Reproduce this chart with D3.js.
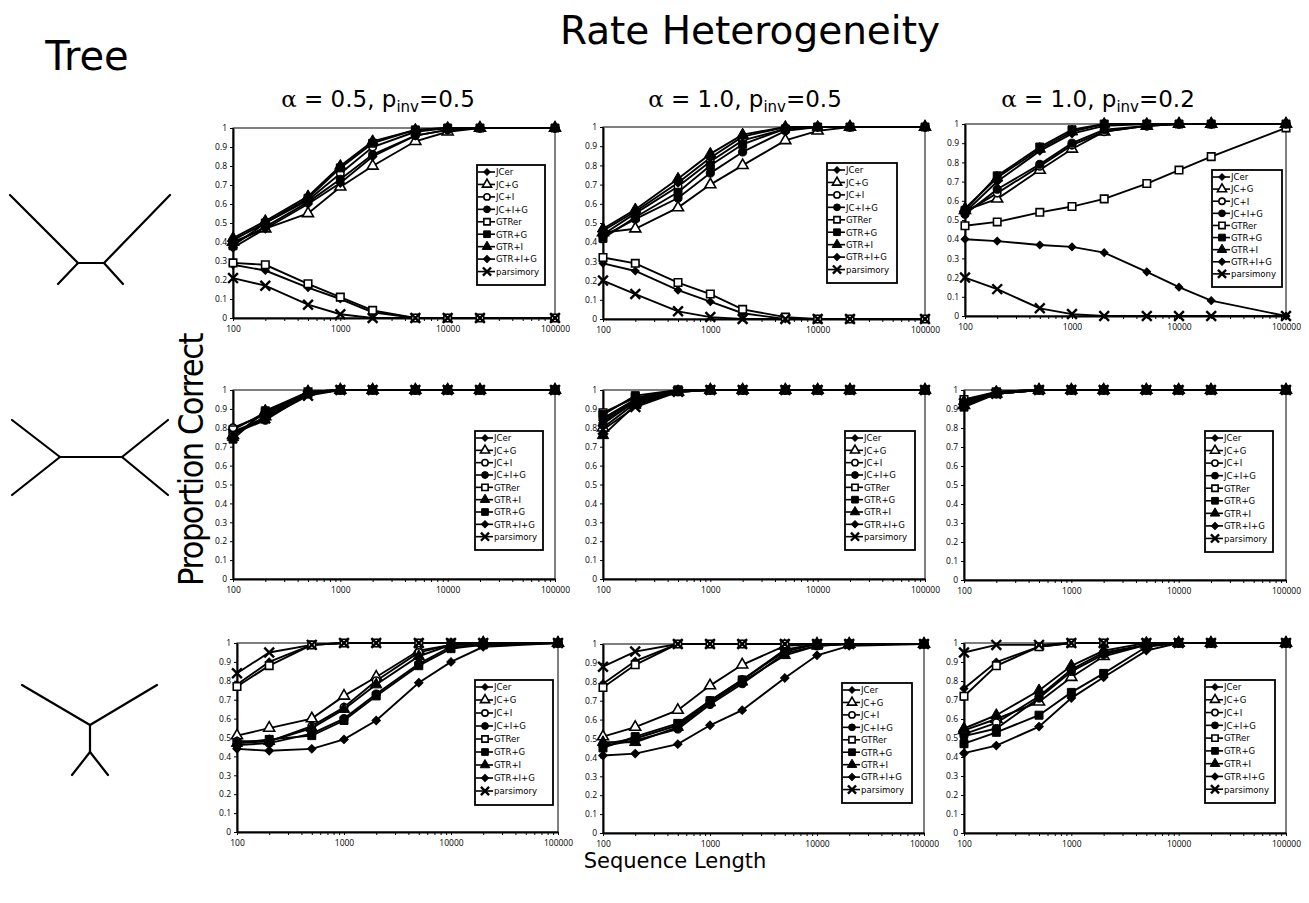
<!DOCTYPE html>
<html>
<head>
<meta charset="utf-8">
<script src="https://cdn.jsdelivr.net/npm/d3@7"></script>
<style>
body{margin:0;background:#fff}
text{font-family:"Open Sans",sans-serif;fill:#000}
.tick text{font-size:8.5px}
.big{font-family:"DejaVu Sans",sans-serif}
</style>
</head>
<body>
<div id="chart"></div>
<script>
var seqLengths = [100, 200, 500, 1000, 2000, 5000, 10000, 20000, 100000]
var models = ["JCer", "JC+G", "JC+I", "JC+I+G", "GTRer", "GTR+G", "GTR+I", "GTR+I+G", "parsimony"]
var yTicks = [0, 0.1, 0.2, 0.3, 0.4, 0.5, 0.6, 0.7, 0.8, 0.9, 1]
var xLabelTicks = [100, 1000, 10000, 100000]
var alphas = ["0.5", "1.0", "1.0"]
var pinvs = ["0.5", "0.5", "0.2"]

// legend texts as printed in each panel (note the "parsimory" spelling)
var legendStd = ["JCer", "JC+G", "JC+I", "JC+I+G", "GTRer", "GTR+G", "GTR+I", "GTR+I+G", "parsimory"]
var legendSwap = ["JCer", "JC+G", "JC+I", "JC+I+G", "GTRer", "GTR+I", "GTR+G", "GTR+I+G", "parsimory"]
var legendOk = ["JCer", "JC+G", "JC+I", "JC+I+G", "GTRer", "GTR+G", "GTR+I", "GTR+I+G", "parsimony"]

// proportion correct, one row per model (same order as models)
// tree 1 (long branches apart)
var tree1a = [
  [0.28, 0.25, 0.16, 0.10, 0.03, 0, 0, 0, 0],
  [0.40, 0.47, 0.55, 0.69, 0.80, 0.93, 0.98, 1, 1],
  [0.41, 0.50, 0.62, 0.76, 0.90, 0.98, 1, 1, 1],
  [0.39, 0.48, 0.61, 0.73, 0.86, 0.96, 0.99, 1, 1],
  [0.29, 0.28, 0.18, 0.11, 0.04, 0, 0, 0, 0],
  [0.38, 0.50, 0.63, 0.79, 0.92, 0.99, 1, 1, 1],
  [0.42, 0.51, 0.64, 0.80, 0.93, 0.99, 1, 1, 1],
  [0.37, 0.47, 0.60, 0.71, 0.85, 0.96, 0.99, 1, 1],
  [0.21, 0.17, 0.07, 0.02, 0, 0, 0, 0, 0]
]
var tree1b = [
  [0.29, 0.25, 0.15, 0.09, 0.03, 0, 0, 0, 0],
  [0.45, 0.47, 0.58, 0.70, 0.80, 0.93, 0.98, 1, 1],
  [0.44, 0.55, 0.69, 0.82, 0.93, 0.99, 1, 1, 1],
  [0.43, 0.52, 0.63, 0.76, 0.87, 0.98, 1, 1, 1],
  [0.32, 0.29, 0.19, 0.13, 0.05, 0.01, 0, 0, 0],
  [0.42, 0.53, 0.66, 0.80, 0.91, 0.99, 1, 1, 1],
  [0.47, 0.57, 0.73, 0.86, 0.96, 1, 1, 1, 1],
  [0.46, 0.56, 0.71, 0.84, 0.95, 1, 1, 1, 1],
  [0.20, 0.13, 0.04, 0.01, 0, 0, 0, 0, 0]
]
var tree1c = [
  [0.40, 0.39, 0.37, 0.36, 0.33, 0.23, 0.15, 0.08, 0],
  [0.55, 0.61, 0.76, 0.87, 0.96, 0.99, 1, 1, 1],
  [0.54, 0.64, 0.78, 0.89, 0.96, 0.99, 1, 1, 1],
  [0.53, 0.66, 0.79, 0.90, 0.97, 0.99, 1, 1, 1],
  [0.47, 0.49, 0.54, 0.57, 0.61, 0.69, 0.76, 0.83, 0.98],
  [0.55, 0.73, 0.88, 0.97, 1, 1, 1, 1, 1],
  [0.56, 0.72, 0.87, 0.96, 1, 1, 1, 1, 1],
  [0.54, 0.70, 0.86, 0.95, 0.99, 1, 1, 1, 1],
  [0.20, 0.14, 0.04, 0.01, 0, 0, 0, 0, 0]
]
// tree 2 (short outer branches)
var tree2a = [
  [0.78, 0.85, 0.98, 1, 1, 1, 1, 1, 1],
  [0.76, 0.86, 0.99, 1, 1, 1, 1, 1, 1],
  [0.80, 0.87, 0.99, 1, 1, 1, 1, 1, 1],
  [0.77, 0.84, 0.98, 1, 1, 1, 1, 1, 1],
  [0.79, 0.88, 0.99, 1, 1, 1, 1, 1, 1],
  [0.74, 0.89, 0.98, 1, 1, 1, 1, 1, 1],
  [0.75, 0.89, 0.99, 1, 1, 1, 1, 1, 1],
  [0.76, 0.86, 0.98, 1, 1, 1, 1, 1, 1],
  [0.77, 0.85, 0.97, 1, 1, 1, 1, 1, 1]
]
var tree2b = [
  [0.83, 0.94, 1, 1, 1, 1, 1, 1, 1],
  [0.80, 0.93, 0.99, 1, 1, 1, 1, 1, 1],
  [0.85, 0.95, 1, 1, 1, 1, 1, 1, 1],
  [0.82, 0.94, 0.99, 1, 1, 1, 1, 1, 1],
  [0.88, 0.96, 1, 1, 1, 1, 1, 1, 1],
  [0.87, 0.97, 1, 1, 1, 1, 1, 1, 1],
  [0.76, 0.92, 0.99, 1, 1, 1, 1, 1, 1],
  [0.84, 0.95, 1, 1, 1, 1, 1, 1, 1],
  [0.79, 0.91, 0.99, 1, 1, 1, 1, 1, 1]
]
var tree2c = [
  [0.93, 0.99, 1, 1, 1, 1, 1, 1, 1],
  [0.92, 0.98, 1, 1, 1, 1, 1, 1, 1],
  [0.94, 0.99, 1, 1, 1, 1, 1, 1, 1],
  [0.93, 0.98, 1, 1, 1, 1, 1, 1, 1],
  [0.95, 0.99, 1, 1, 1, 1, 1, 1, 1],
  [0.91, 0.98, 1, 1, 1, 1, 1, 1, 1],
  [0.94, 0.99, 1, 1, 1, 1, 1, 1, 1],
  [0.92, 0.98, 1, 1, 1, 1, 1, 1, 1],
  [0.93, 0.98, 1, 1, 1, 1, 1, 1, 1]
]
// tree 3 (long branches together)
var tree3a = [
  [0.78, 0.90, 0.99, 1, 1, 1, 1, 1, 1],
  [0.51, 0.55, 0.60, 0.72, 0.82, 0.96, 0.99, 1, 1],
  [0.48, 0.48, 0.56, 0.66, 0.80, 0.95, 0.99, 1, 1],
  [0.46, 0.47, 0.52, 0.60, 0.73, 0.89, 0.98, 0.99, 1],
  [0.77, 0.88, 0.99, 1, 1, 1, 1, 1, 1],
  [0.47, 0.49, 0.51, 0.59, 0.72, 0.88, 0.97, 0.99, 1],
  [0.47, 0.48, 0.55, 0.65, 0.78, 0.93, 0.99, 1, 1],
  [0.44, 0.43, 0.44, 0.49, 0.59, 0.79, 0.90, 0.98, 1],
  [0.84, 0.95, 0.99, 1, 1, 1, 1, 1, 1]
]
var tree3b = [
  [0.79, 0.91, 1, 1, 1, 1, 1, 1, 1],
  [0.51, 0.56, 0.65, 0.78, 0.89, 0.99, 1, 1, 1],
  [0.47, 0.50, 0.57, 0.70, 0.81, 0.97, 1, 1, 1],
  [0.46, 0.49, 0.55, 0.68, 0.79, 0.95, 0.99, 1, 1],
  [0.77, 0.89, 1, 1, 1, 1, 1, 1, 1],
  [0.45, 0.51, 0.58, 0.70, 0.81, 0.96, 1, 1, 1],
  [0.48, 0.48, 0.56, 0.69, 0.80, 0.94, 0.99, 1, 1],
  [0.41, 0.42, 0.47, 0.57, 0.65, 0.82, 0.94, 0.99, 1],
  [0.88, 0.96, 1, 1, 1, 1, 1, 1, 1]
]
var tree3c = [
  [0.76, 0.90, 0.98, 1, 1, 1, 1, 1, 1],
  [0.54, 0.60, 0.69, 0.82, 0.93, 0.99, 1, 1, 1],
  [0.52, 0.58, 0.72, 0.86, 0.95, 0.99, 1, 1, 1],
  [0.51, 0.55, 0.71, 0.85, 0.94, 0.99, 1, 1, 1],
  [0.72, 0.88, 0.98, 1, 1, 1, 1, 1, 1],
  [0.47, 0.53, 0.62, 0.74, 0.84, 0.98, 1, 1, 1],
  [0.55, 0.62, 0.75, 0.88, 0.96, 1, 1, 1, 1],
  [0.42, 0.46, 0.56, 0.71, 0.82, 0.96, 1, 1, 1],
  [0.95, 0.99, 0.99, 1, 1, 1, 1, 1, 1]
]

var svg = d3.select("#chart").append("svg").attr("width", 1309).attr("height", 903)

// marker look per model: [symbol, filled, area, rotate]
var markerType = {
  "JCer": [d3.symbolSquare, true, 30, 45],
  "JC+G": [d3.symbolTriangle, false, 52, 0],
  "JC+I": [d3.symbolCircle, false, 44, 0],
  "JC+I+G": [d3.symbolCircle, true, 52, 0],
  "GTRer": [d3.symbolSquare, false, 56, 0],
  "GTR+G": [d3.symbolSquare, true, 64, 0],
  "GTR+I": [d3.symbolTriangle, true, 56, 0],
  "GTR+I+G": [d3.symbolSquare, true, 36, 45],
  "parsimony": [d3.symbolTimes, false, 64, 0]
}
function drawMarker(sel, model, scale) {
  var m = markerType[model]
  var s = scale || 1
  var p = sel.append("path").attr("d", d3.symbol().type(m[0]).size(m[2] * s)())
    .attr("transform", "rotate(" + m[3] + ")")
  if (model == "parsimony") {
    p.attr("fill", "none").attr("stroke", "#000").attr("stroke-width", 2.4)
  } else if (m[1]) {
    p.attr("fill", "#000").attr("stroke", "#000").attr("stroke-width", 1)
  } else {
    p.attr("fill", "#fff").attr("stroke", "#000").attr("stroke-width", 1.6)
  }
  return p
}

var panels = [
  {data: tree1a, legend: legendStd, x0: 233, x1: 555, y0: 128, y1: 318, lg: [477, 165, 68, 120]},
  {data: tree1b, legend: legendStd, x0: 603, x1: 925, y0: 127, y1: 319, lg: [827, 163, 70, 120]},
  {data: tree1c, legend: legendOk, x0: 965, x1: 1286, y0: 124, y1: 316, lg: [1212, 170, 70, 117]},
  {data: tree2a, legend: legendSwap, x0: 233, x1: 555, y0: 390, y1: 579, lg: [475, 431, 68, 119]},
  {data: tree2b, legend: legendStd, x0: 603, x1: 925, y0: 390, y1: 579, lg: [845, 431, 70, 119]},
  {data: tree2c, legend: legendStd, x0: 964, x1: 1286, y0: 390, y1: 580, lg: [1205, 431, 68, 121]},
  {data: tree3a, legend: legendStd, x0: 237, x1: 558, y0: 643, y1: 832, lg: [475, 680, 78, 125]},
  {data: tree3b, legend: legendStd, x0: 603, x1: 924, y0: 644, y1: 833, lg: [842, 683, 70, 120]},
  {data: tree3c, legend: legendOk, x0: 964, x1: 1286, y0: 643, y1: 833, lg: [1205, 680, 70, 123]}
]

panels.forEach(function(p) {
  var x = d3.scaleLog().domain([100, 100000]).range([p.x0, p.x1])
  var y = d3.scaleLinear().domain([0, 1]).range([p.y1, p.y0])
  var g = svg.append("g")

  g.append("rect")
    .attr("x", p.x0).attr("y", p.y0)
    .attr("width", p.x1 - p.x0).attr("height", p.y1 - p.y0)
    .attr("fill", "none").attr("stroke", "#000").attr("stroke-width", 1)

  var yAxis = d3.axisLeft(y).tickValues(yTicks).tickSize(3).tickSizeOuter(0)
    .tickFormat(d3.format("~g"))
  var gy = g.append("g").attr("transform", "translate(" + p.x0 + ",0)").call(yAxis)
  gy.select(".domain").attr("stroke-width", 2)

  var xAxis = d3.axisBottom(x).ticks(10).tickSize(3).tickSizeOuter(0)
    .tickFormat(function(d) { return xLabelTicks.indexOf(d) >= 0 ? d : "" })
  var gx = g.append("g").attr("transform", "translate(0," + p.y1 + ")").call(xAxis)
  gx.select(".domain").attr("stroke-width", 2)
  gx.selectAll(".tick text").attr("dy", "0.9em")

  var line = d3.line()
    .x(function(d, i) { return x(seqLengths[i]) })
    .y(function(d) { return y(d) })

  g.selectAll(".series").data(p.data).enter().append("path")
    .attr("class", "series")
    .attr("d", line)
    .attr("fill", "none").attr("stroke", "#000").attr("stroke-width", 1.9)

  p.data.forEach(function(vals, k) {
    vals.forEach(function(v, i) {
      var mg = g.append("g").attr("transform", "translate(" + x(seqLengths[i]) + "," + y(v) + ")")
      drawMarker(mg, models[k])
    })
  })

  // legend
  var lg = g.append("g").attr("transform", "translate(" + p.lg[0] + "," + p.lg[1] + ")")
  lg.append("rect").attr("width", p.lg[2]).attr("height", p.lg[3])
    .attr("fill", "#fff").attr("stroke", "#000").attr("stroke-width", 1.8)
  var step = (p.lg[3] - 8) / 9
  p.legend.forEach(function(name, i) {
    var model = name == "parsimory" ? "parsimony" : name
    var row = lg.append("g").attr("transform", "translate(0," + (7 + step * i) + ")")
    row.append("line").attr("x1", 1).attr("x2", 18).attr("stroke", "#000").attr("stroke-width", 1.6)
    var mg = row.append("g").attr("transform", "translate(10,0)")
    drawMarker(mg, model, 0.7)
    row.append("text").attr("x", 19).attr("y", 0).attr("dy", "0.35em")
      .style("font-size", "9.5px").style("font-family", "'Liberation Sans Narrow','DejaVu Sans Condensed',sans-serif")
      .text(name)
  })
})

// titles
svg.append("text").attr("class", "big").attr("x", 750).attr("y", 44).attr("text-anchor", "middle")
  .style("font-size", "39px").text("Rate Heterogeneity")
svg.append("text").attr("class", "big").attr("x", 87).attr("y", 70).attr("text-anchor", "middle")
  .style("font-size", "40px").text("Tree")

var headerX = [378, 745, 1098]
headerX.forEach(function(cx, i) {
  var t = svg.append("text").attr("class", "big").attr("x", cx).attr("y", 107)
    .attr("text-anchor", "middle").style("font-size", "23px")
  t.append("tspan").style("font-family", "'DejaVu Serif',serif").text("\u03b1")
  t.append("tspan").text(" = " + alphas[i] + ", p")
  t.append("tspan").attr("dy", 5).style("font-size", "15px").text("inv")
  t.append("tspan").attr("dy", -5).text("=" + pinvs[i])
})

svg.append("text").attr("transform", "translate(203,460) rotate(-90)")
  .attr("text-anchor", "middle")
  .style("font-size", "34px").style("font-family", "'Liberation Sans Narrow','DejaVu Sans Condensed',sans-serif")
  .style("letter-spacing", "-1.5px")
  .text("Proportion Correct")

svg.append("text").attr("class", "big").attr("x", 675).attr("y", 868).attr("text-anchor", "middle")
  .style("font-size", "21px").text("Sequence Length")

// tree shapes
var treeLines = [
  [[10, 195], [78, 263]], [[78, 263], [104, 263]], [[104, 263], [170, 195]],
  [[78, 263], [58, 284]], [[104, 263], [123, 284]],
  [[12, 420], [60, 457]], [[60, 457], [12, 495]], [[60, 457], [122, 457]],
  [[122, 457], [168, 420]], [[122, 457], [168, 495]],
  [[22, 685], [90, 725]], [[90, 725], [157, 685]], [[90, 725], [90, 752]],
  [[90, 752], [72, 775]], [[90, 752], [108, 775]]
]
svg.selectAll(".branch").data(treeLines).enter().append("line")
  .attr("class", "branch")
  .attr("x1", function(d) { return d[0][0] }).attr("y1", function(d) { return d[0][1] })
  .attr("x2", function(d) { return d[1][0] }).attr("y2", function(d) { return d[1][1] })
  .attr("stroke", "#000").attr("stroke-width", 2.2).attr("stroke-linecap", "round")
</script>
</body>
</html>
